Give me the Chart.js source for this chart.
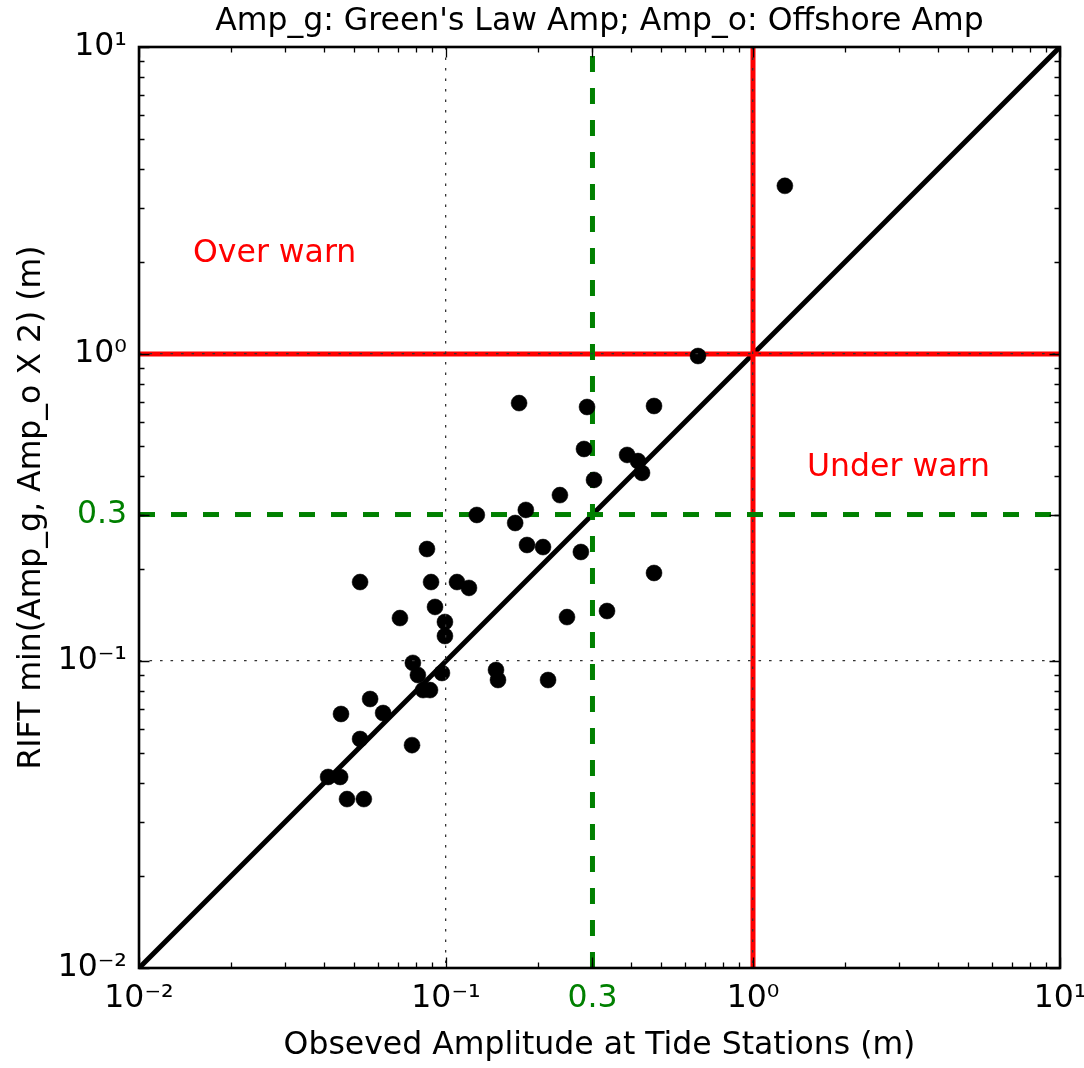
<!DOCTYPE html>
<html>
<head>
<meta charset="utf-8">
<script src="https://cdn.jsdelivr.net/npm/chart.js"></script>
<style>
  body { margin: 0; background: #fff; }
  #wrap { width: 1084px; height: 1068px; }
</style>
</head>
<body>
<div id="wrap"><canvas id="amp-chart" width="1084" height="1068"></canvas></div>
<script>
// Observed amplitude at tide stations vs RIFT amplitude (m), one pair per station
const obsAmp = [1.27, 0.662, 0.173, 0.288, 0.476, 0.2815, 0.389, 0.422, 0.435, 0.3035,
                0.235, 0.126, 0.182, 0.168, 0.1836, 0.207, 0.275, 0.0867, 0.476, 0.0525,
                0.0894, 0.1086, 0.1188, 0.0921, 0.0708, 0.0992, 0.0992, 0.2478, 0.3346, 0.078,
                0.081, 0.097, 0.0842, 0.0887, 0.1455, 0.1477, 0.215, 0.0566, 0.0455, 0.0624,
                0.0525, 0.0775, 0.0413, 0.0452, 0.0476, 0.054];
const riftAmp = [3.53, 0.985, 0.692, 0.672, 0.677, 0.4905, 0.469, 0.448, 0.41, 0.389,
                 0.347, 0.299, 0.3105, 0.2815, 0.2387, 0.235, 0.2265, 0.2316, 0.1935, 0.1808,
                 0.1808, 0.1808, 0.173, 0.15, 0.138, 0.134, 0.1206, 0.139, 0.1455, 0.0986,
                 0.09, 0.0914, 0.0804, 0.0804, 0.0935, 0.0867, 0.0867, 0.0752, 0.0672, 0.0677,
                 0.0557, 0.0532, 0.0419, 0.0419, 0.0355, 0.0355];

// Axis ticks (same on both axes)
const tickValues = [0.01, 0.1, 0.3, 1, 10];
const tickLabels = ['10⁻²', '10⁻¹', '0.3', '10⁰', '10¹'];
const gridValues = [0.1, 1];
const minorDecades = [0.01, 0.1, 1];
const minorSteps = [2, 3, 4, 5, 6, 7, 8, 9];

// Reference lines
const axisRange = [0.01, 10];
const warnLevel = 1;
const threshold = 0.3;

// Region labels: x, y, text
const overWarn = [0.015, 2, 'Over warn'];
const underWarn = [1.5, 0.4, 'Under warn'];
const chartTitle = "Amp_g: Green's Law Amp; Amp_o: Offshore Amp";

const FONT = "'DejaVu Sans', sans-serif";
const FSIZE = 31.5;
const GREEN = '#008000';
const RED = '#ff0000';

Chart.defaults.font.family = FONT;
Chart.defaults.font.size = FSIZE;
Chart.defaults.color = '#000';

const stations = obsAmp.map((v, i) => ({ x: v, y: riftAmp[i] }));

function refLine (x0, y0, x1, y1, colour, dash) {
  return {
    data: [{ x: x0, y: y0 }, { x: x1, y: y1 }],
    showLine: true,
    borderColor: colour,
    borderWidth: 5,
    borderDash: dash || [],
    pointRadius: 0,
    tension: 0
  };
}

// Frame, inward tick marks, title over the plot and the two region labels
const framePlugin = {
  id: 'framePlugin',
  afterDraw (chart) {
    const { ctx, chartArea: a, scales: { x, y } } = chart;
    ctx.save();
    ctx.strokeStyle = '#000';
    ctx.lineWidth = 1.3;
    const mark = (v, len) => {
      const px = Math.round(x.getPixelForValue(v)) + 0.5;
      const py = Math.round(y.getPixelForValue(v)) + 0.5;
      ctx.beginPath();
      ctx.moveTo(px, a.bottom); ctx.lineTo(px, a.bottom - len);
      ctx.moveTo(px, a.top); ctx.lineTo(px, a.top + len);
      ctx.moveTo(a.left, py); ctx.lineTo(a.left + len, py);
      ctx.moveTo(a.right, py); ctx.lineTo(a.right - len, py);
      ctx.stroke();
    };
    minorDecades.forEach(d => minorSteps.forEach(m => mark(d * m, 5.5)));
    tickValues.forEach(v => mark(v, 10.5));

    ctx.lineWidth = 2.6;
    ctx.strokeRect(a.left, a.top, a.right - a.left, a.bottom - a.top);

    ctx.font = FSIZE + 'px ' + FONT;
    ctx.fillStyle = '#000';
    ctx.textAlign = 'center';
    ctx.textBaseline = 'middle';
    ctx.fillText(chartTitle, (a.left + a.right) / 2, 22);

    ctx.fillStyle = RED;
    ctx.textAlign = 'left';
    ctx.textBaseline = 'alphabetic';
    [overWarn, underWarn].forEach(t => {
      ctx.fillText(t[2], x.getPixelForValue(t[0]), y.getPixelForValue(t[1]));
    });
    ctx.restore();
  }
};

function axisOptions (titleText, titlePadding, fitFn) {
  return {
    type: 'logarithmic',
    min: axisRange[0],
    max: axisRange[1],
    afterBuildTicks: s => { s.ticks = tickValues.map(v => ({ value: v })); },
    afterFit: fitFn,
    ticks: {
      autoSkip: false,
      maxRotation: 0,
      padding: 12,
      callback: (v, i) => tickLabels[i],
      color: c => (c.tick && c.tick.value === threshold) ? GREEN : '#000'
    },
    grid: {
      z: 1,
      drawTicks: false,
      lineWidth: 1.3,
      color: c => (c.tick && gridValues.includes(c.tick.value)) ? '#333' : 'rgba(0,0,0,0)'
    },
    border: { display: false, dash: [2.6, 7.9] },
    title: { display: true, text: titleText, padding: titlePadding }
  };
}

const ctx = document.getElementById('amp-chart').getContext('2d');
const ampChart = new Chart(ctx, {
  type: 'scatter',
  data: {
    datasets: [
      {
        data: stations,
        backgroundColor: '#000',
        borderColor: '#000',
        pointRadius: 8,
        pointBorderWidth: 0.5
      },
      refLine(axisRange[0], threshold, axisRange[1], threshold, GREEN, [16, 16]),
      refLine(threshold, axisRange[0], threshold, axisRange[1], GREEN, [16, 16]),
      refLine(axisRange[0], warnLevel, axisRange[1], warnLevel, RED),
      refLine(warnLevel, axisRange[0], warnLevel, axisRange[1], RED),
      refLine(axisRange[0], axisRange[0], axisRange[1], axisRange[1], '#000')
    ]
  },
  options: {
    responsive: false,
    animation: false,
    layout: { padding: { left: 0, right: 24, top: 47, bottom: 0 } },
    scales: {
      x: axisOptions('Obseved Amplitude at Tide Stations (m)', { top: 0, bottom: 3 }, s => {
        s.height = 100; s.paddingLeft = 0; s.paddingRight = 0;
      }),
      y: axisOptions('RIFT min(Amp_g, Amp_o X 2) (m)', { top: 13, bottom: 0 }, s => {
        s.width = 139; s.paddingTop = 0; s.paddingBottom = 0;
      })
    },
    plugins: {
      legend: { display: false },
      tooltip: { enabled: false },
      title: { display: false }
    }
  },
  plugins: [framePlugin]
});
</script>
</body>
</html>
